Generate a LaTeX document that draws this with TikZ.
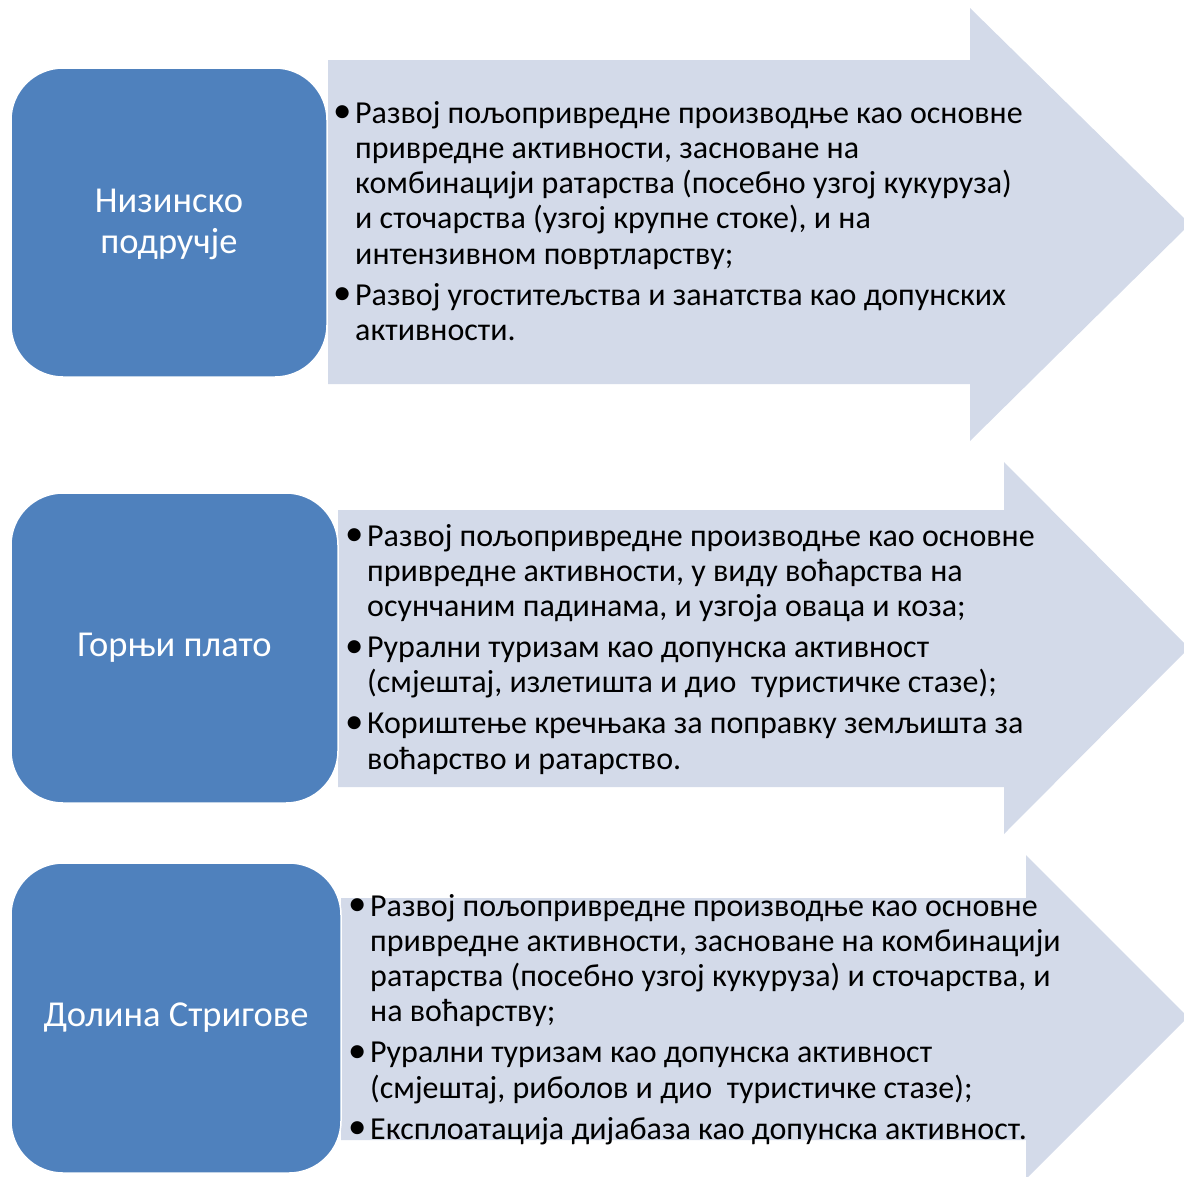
\documentclass[tikz,border=0pt]{standalone}
\usepackage{fontspec}
\setmainfont{Carlito}
\definecolor{boxblue}{RGB}{79,129,189}
\definecolor{arrowfill}{RGB}{211,218,233}
\newcommand{\bl}{\makebox[22pt][l]{\raisebox{0.5pt}{\scalebox{1.15}{•}}}}
\newcommand{\ind}{\hspace*{22pt}}
\begin{document}
\begin{tikzpicture}[x=1pt,y=-1pt,
  arrowshape/.style={fill=arrowfill,draw=none},
  labelbox/.style={fill=boxblue,draw=white,line width=1.5pt,rounded corners=52pt},
  labeltext/.style={text=white,font=\fontsize{36.5}{41}\selectfont,align=center,inner sep=0pt},
  itemtext/.style={anchor=base west,inner sep=0pt,font=\fontsize{32}{35.3}\selectfont}]
\path[use as bounding box] (0,0) rectangle (1184,1176);
\clip (0,0) rectangle (1184,1176);
% arrows
\fill[arrowshape] (328,60) -- (970,60) -- (970,8) -- (1190,224) -- (970,441) -- (970,384) -- (328,384) -- cycle;
\fill[arrowshape] (338,510) -- (1004,510) -- (1004,462) -- (1189,648) -- (1004,834) -- (1004,787) -- (338,787) -- cycle;
\fill[arrowshape] (341,898) -- (1026,898) -- (1026,855) -- (1188,1017) -- (1026,1179) -- (1026,1140) -- (341,1140) -- cycle;
% label boxes
\path[labelbox] (11,68) rectangle (327,377);
\node[labeltext] (l1) at (169,224) {Низинско\\подручје};
\path[labelbox] (11,493) rectangle (338,803);
\node[labeltext] (l2) at (174.5,648) {Горњи плато};
\path[labelbox] (11,863) rectangle (341,1173);
\node[labeltext] (l3) at (176,1018) {Долина Стригове};
% texts
\node[itemtext] (t1) at (333,123) {\begin{tabular}[t]{@{}l@{}}
\bl Развој пољопривредне производње као основне\\
\ind привредне активности, засноване на\\
\ind комбинацији ратарства (посебно узгој кукуруза)\\
\ind и сточарства (узгој крупне стоке), и на\\
\ind интензивном повртларству;\\[5.7pt]
\bl Развој угоститељства и занатства као допунских\\
\ind активности.
\end{tabular}};
\node[itemtext] (t2) at (345,546) {\begin{tabular}[t]{@{}l@{}}
\bl Развој пољопривредне производње као основне\\
\ind привредне активности, у виду воћарства на\\
\ind осунчаним падинама, и узгоја оваца и коза;\\[5.7pt]
\bl Рурални туризам као допунска активност\\
\ind (смјештај, излетишта и дио\ \ туристичке стазе);\\[5.7pt]
\bl Кориштење кречњака за поправку земљишта за\\
\ind воћарство и ратарство.
\end{tabular}};
\node[itemtext] (t3) at (348,916) {\begin{tabular}[t]{@{}l@{}}
\bl Развој пољопривредне производње као основне\\
\ind привредне активности, засноване на комбинацији\\
\ind ратарства (посебно узгој кукуруза) и сточарства, и\\
\ind на воћарству;\\[5.7pt]
\bl Рурални туризам као допунска активност\\
\ind (смјештај, риболов и дио\ \ туристичке стазе);\\[5.7pt]
\bl Експлоатација дијабаза као допунска активност.
\end{tabular}};
\end{tikzpicture}
\end{document}
